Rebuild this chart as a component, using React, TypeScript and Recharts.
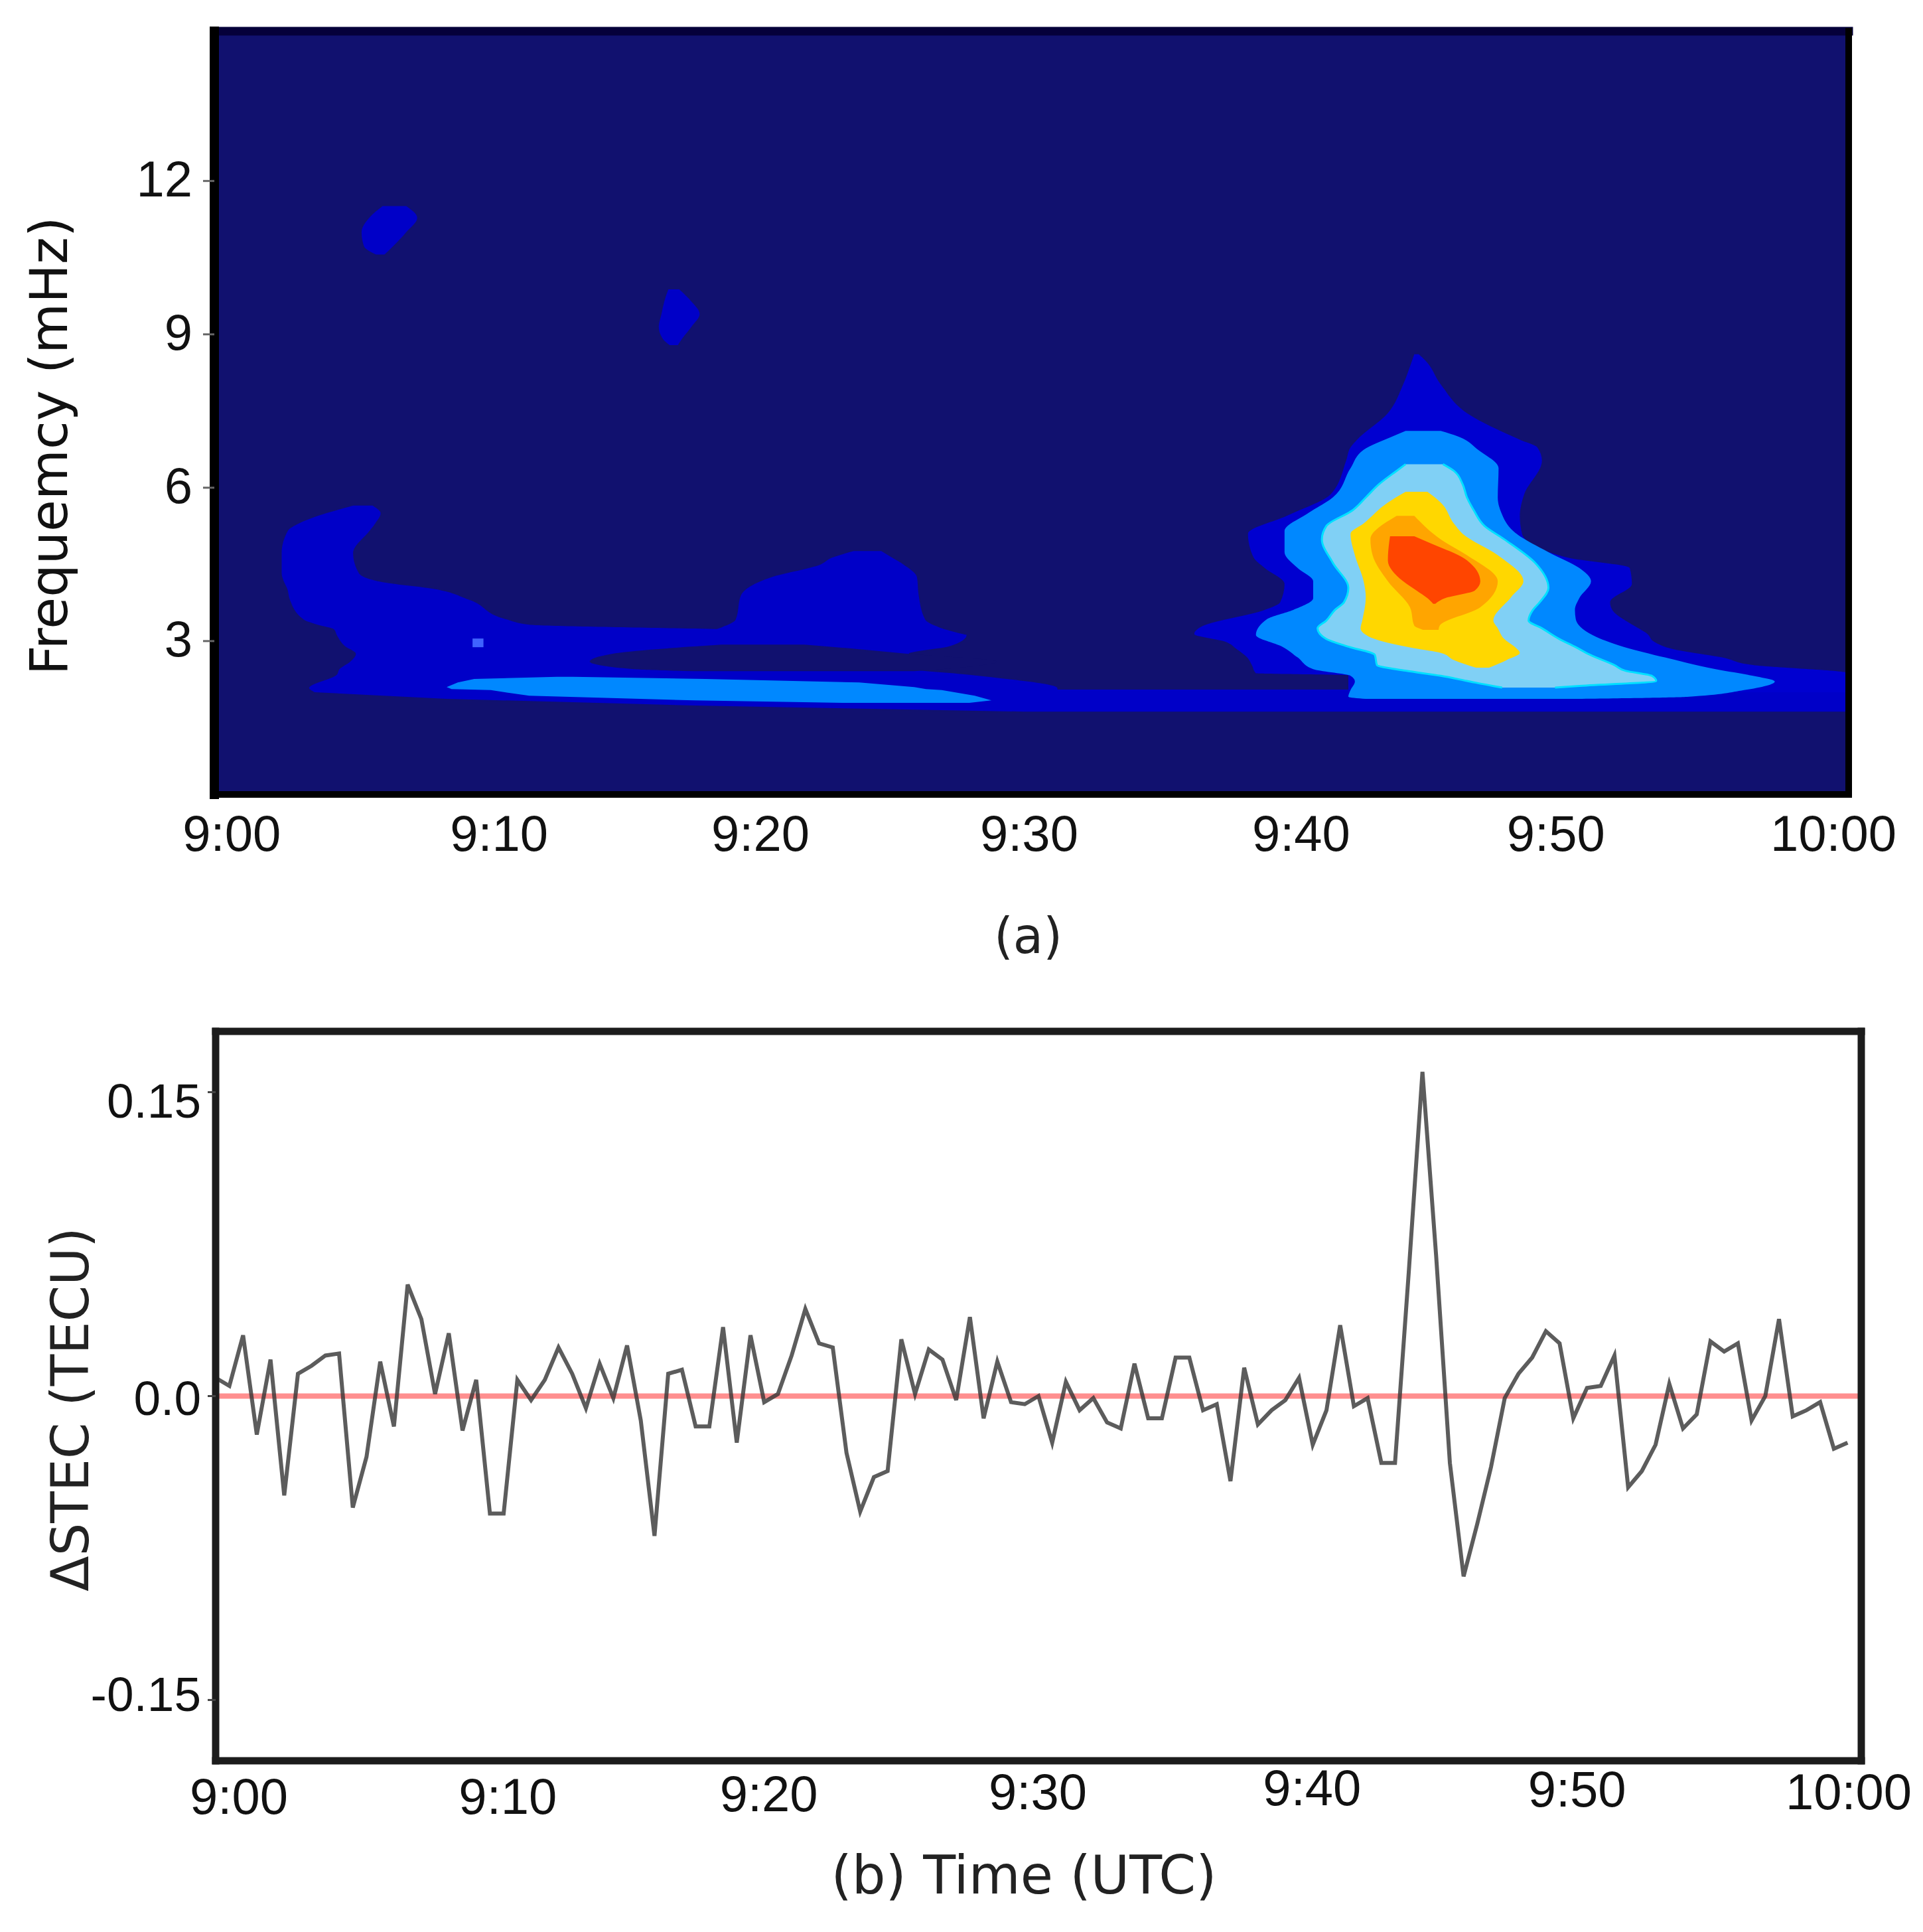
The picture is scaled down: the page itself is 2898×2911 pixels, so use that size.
import { Area, ComposedChart, Line, ReferenceLine, XAxis, YAxis } from 'recharts'

const FONT = '"Liberation Sans", Arial, sans-serif'
const TITLE_FONT = '"DejaVu Sans", sans-serif'

// panel (a): every contour is a list of rows [frequency mHz, left minute, right minute]
const background = [
  [14.93, -0.2, 59.74],
  [0, -0.2, 59.74],
]
const leftBody = [
  [5.65, 4.9, 5.6], [5.5, 3.9, 5.9], [5.3, 2.9, 5.7], [5.16, 2.5, 5.5], [4.72, 2.27, 4.89], [4.33, 2.27, 5.1],
  [4.14, 2.37, 6.1], [4.03, 2.47, 7.72], [3.81, 2.57, 9.13], [3.42, 3.08, 10.54], [3.32, 3.58, 11.35],
  [3.23, 4.19, 18.61], [3.12, 4.29, 27.39], [2.9, 4.59, 26.78], [2.75, 4.99, 25.27], [2.6, 4.79, 25.27],
  [2.45, 4.39, 25.47], [2.34, 4.29, 27.49], [2.08, 3.28, 30.72], [2.0, 3.48, 30.72],
]
const hump = [
  [4.76, 23.25, 24.26], [4.63, 22.45, 24.66], [4.5, 22.04, 25.07], [4.25, 20.23, 25.57],
  [3.9, 19.12, 25.63], [3.42, 18.92, 25.87], [3.27, 18.41, 26.38], [3.12, 17.4, 27.39],
]
const lens = [
  [2.93, 18.41, 21.44], [2.84, 16.0, 23.45], [2.75, 14.38, 25.27], [2.6, 13.57, 28.5],
  [2.45, 15.18, 26.48], [2.41, 17.4, 25.47],
]
const bottomStrip = [
  [2.05, 3.4, 59.74], [2.0, 3.48, 59.74], [1.87, 8.32, 59.74], [1.74, 17.4, 59.74], [1.62, 29.5, 59.74],
]
const brightStrip = [
  [2.3, 12.36, 12.96], [2.26, 9.33, 17.8], [2.19, 8.73, 23.45], [2.1, 8.32, 25.47], [2.06, 8.5, 25.9],
  [2.04, 9.94, 26.48], [1.93, 11.35, 27.69], [1.84, 17.4, 28.3], [1.79, 22.85, 27.49],
]
const speck = [
  [3.05, 9.27, 9.67],
  [2.88, 9.27, 9.67],
]
const blobA = [
  [11.51, 5.97, 6.84], [11.28, 5.48, 7.24], [11.0, 5.2, 6.84], [10.72, 5.29, 6.35], [10.56, 5.73, 6.04],
]
const blobB = [
  [9.88, 16.45, 16.85], [9.64, 16.3, 17.3], [9.4, 16.2, 17.6], [9.15, 16.1, 17.3], [8.91, 16.25, 16.95], [8.79, 16.5, 16.8],
]
const level1 = [
  [8.61, 43.81, 43.97], [8.49, 43.73, 44.21], [8.02, 43.4, 44.78], [7.46, 42.84, 45.74], [6.94, 41.71, 47.68],
  [6.79, 41.47, 48.32], [6.53, 41.31, 48.49], [5.87, 40.74, 47.84], [5.45, 39.13, 47.68], [5.1, 37.71, 47.76],
  [4.63, 37.92, 49.45], [4.43, 38.32, 51.71], [4.12, 39.05, 51.79], [3.76, 38.89, 50.99], [3.61, 38.32, 51.07],
  [3.3, 36.07, 51.87], [3.14, 35.74, 52.36], [2.99, 36.87, 52.6], [2.84, 37.3, 53.32], [2.68, 37.68, 55.1],
  [2.53, 37.85, 56.23], [2.37, 38.0, 59.74], [2.33, 41.39, 59.74], [2.0, 41.39, 59.74],
]
const level2 = [
  [7.11, 43.49, 44.78], [7.0, 43.0, 45.42], [6.74, 41.95, 46.15], [6.38, 41.47, 46.9], [5.81, 40.82, 46.87],
  [5.51, 39.94, 47.0], [5.15, 39.05, 47.44], [4.74, 39.05, 48.73], [4.43, 39.53, 49.86], [4.17, 40.1, 50.29],
  [3.84, 40.1, 49.86], [3.61, 39.37, 49.7], [3.43, 38.41, 49.73], [3.12, 38.0, 50.34], [2.89, 38.97, 51.47],
  [2.68, 39.53, 53.0], [2.45, 40.1, 54.86], [2.32, 41.47, 56.23], [2.21, 41.63, 57.03], [2.04, 41.47, 55.9],
  [1.91, 41.39, 53.81], [1.87, 42.03, 49.78],
]
const level3 = [
  [6.46, 43.49, 44.86], [6.33, 43.16, 45.26], [6.07, 42.52, 45.58], [5.81, 42.03, 45.74], [5.56, 41.55, 45.99],
  [5.25, 40.58, 46.39], [4.99, 40.42, 47.11], [4.53, 40.82, 48.24], [4.04, 41.39, 48.73], [3.76, 41.23, 48.41],
  [3.61, 40.9, 48.16], [3.4, 40.58, 48.0], [3.25, 40.26, 48.49], [3.04, 40.58, 49.13], [2.89, 41.39, 49.7],
  [2.73, 42.36, 50.26], [2.53, 42.44, 51.15], [2.42, 43.49, 51.55], [2.32, 44.78, 52.52], [2.22, 45.74, 52.68],
  [2.12, 46.71, 49.78], [2.09, 47.03, 48.97],
]
const level4 = [
  [5.92, 43.49, 44.29], [5.71, 42.84, 44.78], [5.3, 41.95, 45.26], [5.1, 41.47, 45.58], [4.68, 41.63, 46.87],
  [4.17, 41.95, 47.81], [3.86, 42.03, 47.36], [3.4, 41.9, 46.71], [3.25, 41.84, 46.87], [3.04, 42.36, 47.11],
  [2.86, 43.81, 47.55], [2.77, 44.78, 47.68], [2.63, 45.26, 47.2], [2.48, 46.07, 46.55],
]
const level5 = [
  [5.45, 43.16, 43.81], [4.99, 42.2, 44.78], [4.68, 42.28, 45.74], [4.17, 42.84, 46.87], [3.66, 43.65, 46.23],
  [3.3, 43.81, 44.74], [3.22, 44.13, 44.7],
]
const level6 = [
  [5.05, 42.92, 43.81], [4.94, 42.89, 44.29], [4.58, 42.84, 45.74], [4.17, 43.4, 46.23], [3.99, 43.89, 46.03],
  [3.84, 44.29, 44.94], [3.73, 44.5, 44.58],
]

// panel (b): dSTEC sampled every 30 s from 9:00
const stec = [
  0.009, 0.005, 0.03, -0.019, 0.018, -0.049, 0.011, 0.015, 0.02, 0.021,
  -0.055, -0.03, 0.017, -0.015, 0.055, 0.038, 0.001, 0.031, -0.017, 0.008,
  -0.058, -0.058, 0.008, -0.002, 0.008, 0.024, 0.011, -0.006, 0.016, -0.001,
  0.025, -0.012, -0.069, 0.011, 0.013, -0.015, -0.015, 0.034, -0.023, 0.03,
  -0.003, 0.001, 0.02, 0.043, 0.026, 0.024, -0.028, -0.057, -0.04, -0.037,
  0.028, 0.001, 0.023, 0.018, -0.002, 0.039, -0.011, 0.017, -0.003, -0.004,
  0, -0.023, 0.007, -0.007, -0.001, -0.013, -0.016, 0.016, -0.011, -0.011,
  0.019, 0.019, -0.007, -0.004, -0.042, 0.014, -0.014, -0.007, -0.002, 0.009,
  -0.024, -0.007, 0.035, -0.005, -0.001, -0.033, -0.033, 0.061, 0.16, 0.069,
  -0.033, -0.089, -0.063, -0.035, -0.001, 0.011, 0.019, 0.032, 0.026, -0.011,
  0.004, 0.005, 0.02, -0.045, -0.037, -0.024, 0.006, -0.016, -0.009, 0.027,
  0.022, 0.026, -0.012, 0, 0.038, -0.01, -0.007, -0.003, -0.026, -0.023,
]
const timeLabels = ['9:00', '9:10', '9:20', '9:30', '9:40', '9:50', '10:00']
const stecTable = stec.map((v, i) => ({ t: i / 2, v }))

const toRows = (rows: number[][]) => rows.map(([f, a, b]) => ({ f, range: [a, b] }))

const contours: { rows: number[][]; fill: string; stroke?: string; straight?: boolean }[] = [
  { rows: background, fill: '#11116f', straight: true },
  { rows: leftBody, fill: '#0000c8' },
  { rows: hump, fill: '#0000c8' },
  { rows: lens, fill: '#11116f' },
  { rows: bottomStrip, fill: '#0000c8', straight: true },
  { rows: brightStrip, fill: '#0088ff', straight: true },
  { rows: speck, fill: '#3f63ff', straight: true },
  { rows: blobA, fill: '#0000c8' },
  { rows: blobB, fill: '#0000c8' },
  { rows: level1, fill: '#0000d0' },
  { rows: level2, fill: '#0088ff' },
  { rows: level3, fill: '#80d0f5', stroke: '#00e0ff' },
  { rows: level4, fill: '#ffd700' },
  { rows: level5, fill: '#ffa500' },
  { rows: level6, fill: '#ff4500' },
]

// small hand offsets, the time labels in the source are not centred on their ticks
const topNudge = [18, 10, -7, -13, -14, -41, -23]
const bottomNudge = [35, 27, 7, -1, -1, -15, -19]
const bottomLift = [72, 72, 68, 65, 59, 61, 65]

function TimeTick({ x, y, index, nudge, lift, size = 76 }: any) {
  return (
    <text x={x + nudge[index]} y={y + lift[index]} textAnchor="middle" fontFamily={FONT} fontSize={size} fill="#111">
      {timeLabels[index]}
    </text>
  )
}

function ValueTick({ y, payload, right, dy }: any) {
  return (
    <text x={right} y={y + dy + 26} textAnchor="end" fontFamily={FONT} fontSize={76} fill="#111">
      {payload.value}
    </text>
  )
}

function StecTick({ y, payload }: any) {
  const label = payload.value === 0 ? '0.0' : String(payload.value)
  const dy = payload.value === 0.15 ? 12 : payload.value === -0.15 ? -9 : 2
  return (
    <text x={303} y={y + dy + 26} textAnchor="end" fontFamily={FONT} fontSize={73} fill="#111">
      {label}
    </text>
  )
}

function Spectrogram() {
  return (
    <ComposedChart
      layout="vertical"
      width={2898}
      height={1500}
      margin={{ top: 27, right: 52, bottom: 203, left: 123 }}
    >
      <XAxis
        xAxisId="t"
        type="number"
        domain={[-0.2, 59.74]}
        allowDataOverflow
        ticks={[0, 10, 20, 30, 40, 50, 59.74]}
        height={100}
        axisLine={{ stroke: '#000', strokeWidth: 10, strokeLinecap: 'square' }}
        tickLine={false}
        tick={<TimeTick nudge={topNudge} lift={[77, 77, 77, 77, 77, 77, 77]} />}
        label={{ value: '(a)', position: 'insideBottom', dx: -5, dy: 144, fontFamily: TITLE_FONT, fontSize: 74, fill: '#222' }}
      />
      <XAxis
        xAxisId="top"
        orientation="top"
        type="number"
        domain={[-0.2, 59.74]}
        allowDataOverflow
        ticks={[0, 10, 20, 30, 40, 50]}
        height={20}
        axisLine={{ stroke: '#05003a', strokeWidth: 13, strokeLinecap: 'square' }}
        tickSize={15}
        tickLine={{ stroke: '#777', strokeWidth: 3 }}
        tick={false}
      />
      <YAxis
        yAxisId="f"
        dataKey="f"
        type="number"
        reversed
        domain={[0, 14.93]}
        allowDataOverflow
        ticks={[3, 6, 9, 12]}
        width={200}
        axisLine={{ stroke: '#000', strokeWidth: 14, strokeLinecap: 'square' }}
        tickSize={17}
        tickLine={{ stroke: '#666', strokeWidth: 3 }}
        tick={<ValueTick right={290} dy={-3} />}
        label={{ value: 'Frequemcy (mHz)', angle: -90, position: 'center', dx: -150, dy: 50, fontFamily: TITLE_FONT, fontSize: 78, fill: '#111' }}
      />
      <YAxis
        yAxisId="fr"
        orientation="right"
        type="number"
        reversed
        domain={[0, 14.93]}
        allowDataOverflow
        ticks={[3, 6, 9, 12]}
        width={60}
        axisLine={{ stroke: '#000', strokeWidth: 10, strokeLinecap: 'square' }}
        tickSize={20}
        tickLine={{ stroke: '#888', strokeWidth: 3 }}
        tick={false}
      />
      {contours.map((c, i) => (
        <Area
          key={i}
          data={toRows(c.rows)}
          dataKey="range"
          xAxisId="t"
          yAxisId="f"
          type={c.straight ? 'linear' : 'monotone'}
          fill={c.fill}
          fillOpacity={1}
          stroke={c.stroke ?? 'none'}
          strokeWidth={3}
          dot={false}
          activeDot={false}
          isAnimationActive={false}
        />
      ))}
    </ComposedChart>
  )
}

function StecChart() {
  return (
    <ComposedChart
      data={stecTable}
      width={2898}
      height={1511}
      margin={{ top: 134, right: 33, bottom: 158, left: 125 }}
    >
      <XAxis
        xAxisId="t"
        dataKey="t"
        type="number"
        domain={[0, 60]}
        ticks={[0, 10, 20, 30, 40, 50, 60]}
        height={100}
        axisLine={{ stroke: '#1c1c1c', strokeWidth: 11, strokeLinecap: 'square' }}
        tickLine={false}
        tick={<TimeTick nudge={bottomNudge} lift={bottomLift} />}
        label={{ value: '(b) Time (UTC)', position: 'insideBottom', dx: -22, dy: 105, fontFamily: TITLE_FONT, fontSize: 80, fill: '#222' }}
      />
      <XAxis
        xAxisId="top"
        orientation="top"
        type="number"
        domain={[0, 60]}
        ticks={[0, 10, 20, 30, 40, 50, 60]}
        height={20}
        axisLine={{ stroke: '#1c1c1c', strokeWidth: 11, strokeLinecap: 'square' }}
        tickSize={8}
        tickLine={{ stroke: '#333', strokeWidth: 3 }}
        tick={false}
      />
      <YAxis
        yAxisId="v"
        type="number"
        domain={[-0.18, 0.18]}
        ticks={[-0.15, 0, 0.15]}
        width={200}
        axisLine={{ stroke: '#1c1c1c', strokeWidth: 11, strokeLinecap: 'square' }}
        tickSize={12}
        tickLine={{ stroke: '#444', strokeWidth: 3 }}
        tick={<StecTick />}
        label={{ value: 'ΔSTEC (TECU)', angle: -90, position: 'center', dx: -120, dy: 20, fontFamily: TITLE_FONT, fontSize: 78, fill: '#222' }}
      />
      <YAxis
        yAxisId="vr"
        orientation="right"
        type="number"
        domain={[-0.18, 0.18]}
        ticks={[-0.15, 0, 0.15]}
        width={60}
        axisLine={{ stroke: '#1c1c1c', strokeWidth: 11, strokeLinecap: 'square' }}
        tickSize={16}
        tickLine={{ stroke: '#222', strokeWidth: 4 }}
        tick={false}
      />
      <ReferenceLine xAxisId="t" yAxisId="v" y={0} stroke="#ff6a6a" strokeOpacity={0.75} strokeWidth={8} />
      <Line
        xAxisId="t"
        yAxisId="v"
        dataKey="v"
        type="linear"
        stroke="#333"
        strokeOpacity={0.8}
        strokeWidth={6}
        dot={false}
        activeDot={false}
        isAnimationActive={false}
      />
    </ComposedChart>
  )
}

export default function App() {
  return (
    <div style={{ position: 'absolute', left: 0, top: 0, width: 2898, height: 2911, background: '#fff' }}>
      <div style={{ position: 'absolute', left: 0, top: 0 }}>
        <Spectrogram />
      </div>
      <div style={{ position: 'absolute', left: 0, top: 1400 }}>
        <StecChart />
      </div>
    </div>
  )
}
